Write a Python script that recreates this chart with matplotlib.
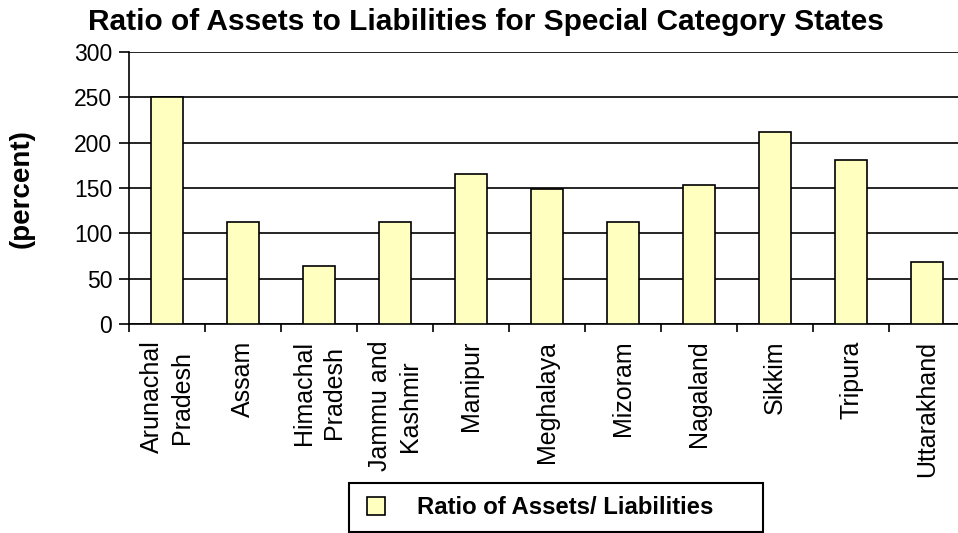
import numpy as np
from matplotlib import pyplot as plt
from matplotlib.patches import Patch, Rectangle

plt.rcParams['font.family'] = ['Liberation Sans', 'DejaVu Sans']

states = ['Arunachal\nPradesh', 'Assam', 'Himachal\nPradesh', 'Jammu and\nKashmir',
          'Manipur', 'Meghalaya', 'Mizoram', 'Nagaland', 'Sikkim', 'Tripura',
          'Uttarakhand']
ratio = [250, 113, 64, 113, 165, 149, 113, 153, 212, 181, 68]
yticks = [0, 50, 100, 150, 200, 250, 300]

fig = plt.figure(figsize=(9.58, 5.33), dpi=100)
# plot area runs slightly off the right edge, as in the scanned original
ax = fig.add_axes([129 / 958, 1 - 324 / 533, 836 / 958, 272 / 533])

x = np.arange(len(states))
ax.bar(x, ratio, width=0.42, color='#ffffc0', edgecolor='black', linewidth=1.2, zorder=3)

ax.set_xlim(-0.5, len(states) - 0.5)
ax.set_ylim(0, 300)
ax.set_yticks(yticks)
ax.tick_params(axis='y', labelsize=16.5, length=7, width=1.2, direction='out', pad=5)
ax.yaxis.grid(True, color='black', linewidth=1.2, zorder=0)

ax.set_xticks(np.arange(len(states) + 1) - 0.5, minor=False)
ax.set_xticklabels([])
ax.set_xticks(x, minor=True)
ax.set_xticklabels(states, minor=True, rotation=90, fontsize=18, va='top', ha='center',
                   linespacing=1.3)
ax.tick_params(axis='x', which='major', length=6, width=1.2, direction='out')
ax.tick_params(axis='x', which='minor', length=0, pad=12)

for s in ['top', 'right']:
    ax.spines[s].set_visible(False)
ax.spines['left'].set_linewidth(1.2)
ax.spines['bottom'].set_linewidth(1.2)

fig.text(22 / 958, 1 - 189 / 533, '(percent)', rotation=90, ha='center', va='center',
         fontsize=20, fontweight='bold')
fig.text(0.507, 1 - 22 / 533, 'Ratio of Assets to Liabilities for Special Category States',
         ha='center', va='center', fontsize=21.5, fontweight='bold')

# legend box
fig.patches.append(Rectangle((349 / 958, 1 - 532 / 533), 414 / 958, 49 / 533,
                             transform=fig.transFigure, facecolor='white',
                             edgecolor='black', linewidth=1.5))
handle = Patch(facecolor='#ffffc0', edgecolor='black', linewidth=1.2)
leg = fig.legend([handle], ['Ratio of Assets/ Liabilities'], loc='center left',
                 bbox_to_anchor=(367 / 958, 1 - 508 / 533), frameon=False,
                 prop={'weight': 'bold', 'size': 17.2},
                 handlelength=0.75, handleheight=0.75, handletextpad=1.35,
                 borderpad=0, borderaxespad=0)

fig.savefig('out.png', dpi=100)
